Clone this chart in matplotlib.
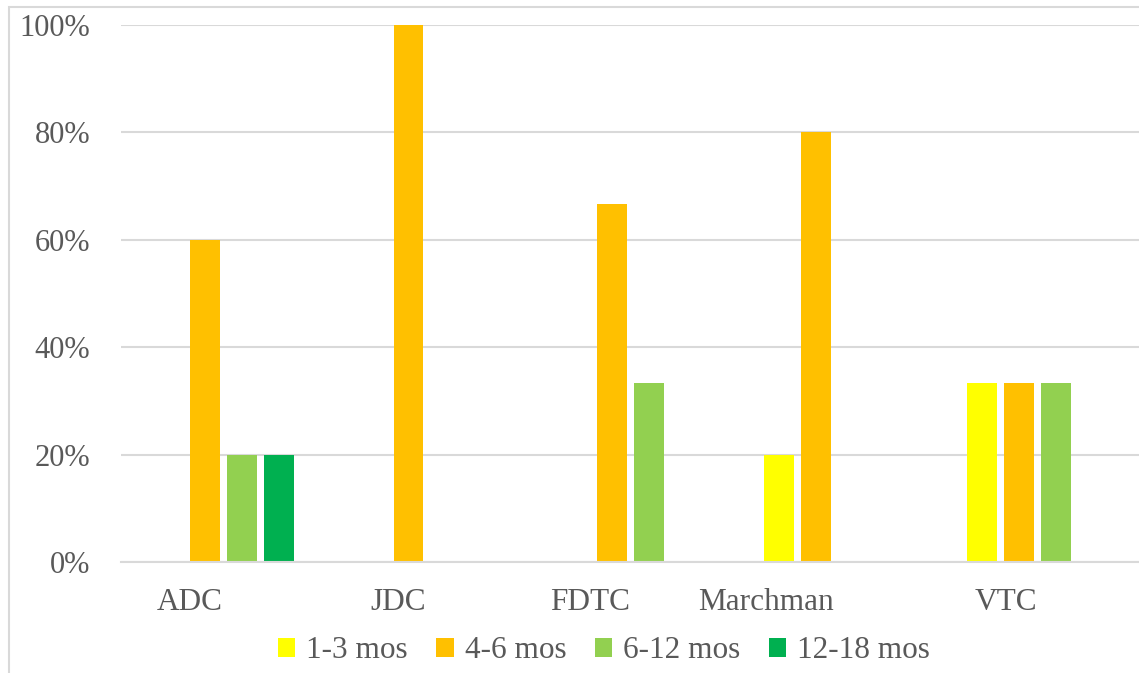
import numpy as np
import matplotlib
matplotlib.use("Agg")
import matplotlib.pyplot as plt
from matplotlib.patches import Rectangle

# data (fractions)
sites = ["ADC", "JDC", "FDTC", "Marchman", "VTC"]
series_names = ["1-3 mos", "4-6 mos", "6-12 mos", "12-18 mos"]
mos_1_3 = [0, 0, 0, 0.20, 0.333]
mos_4_6 = [0.60, 1.00, 0.667, 0.80, 0.333]
mos_6_12 = [0.20, 0, 0.333, 0, 0.333]
mos_12_18 = [0.20, 0, 0, 0, 0]
ticks = [0, 0.2, 0.4, 0.6, 0.8, 1.0]

colors = ["#FFFF00", "#FFC000", "#92D050", "#00B050"]
text_col = "#595959"
grid_col = "#D9D9D9"

plt.rcParams['font.family'] = ['Liberation Serif', 'DejaVu Serif']

W, H = 1139, 673
fig = plt.figure(figsize=(W / 100, H / 100), dpi=100)
ax = fig.add_axes([121 / W, 1 - 562 / H, 1 - 121 / W, (562 - 25) / H])

# light border round the chart area
fig.patches.append(Rectangle((9 / W, -0.1), 1.2, 1 - 7 / H + 0.1,
                             transform=fig.transFigure, fill=False,
                             edgecolor=grid_col, linewidth=1.5))

x = np.arange(len(sites))
step = 0.182
width = 0.147
all_series = [mos_1_3, mos_4_6, mos_6_12, mos_12_18]
for j, vals in enumerate(all_series):
    ax.bar(x + (j - 1.5) * step + 0.003, vals, width, color=colors[j],
           label=series_names[j], zorder=3)

ax.set_xlim(-0.5, len(sites) - 0.5)
ax.set_ylim(0, 1.0)
ax.set_yticks(ticks)
ax.set_yticklabels([f"{int(round(t * 100))}%" for t in ticks])
ax.set_xticks(x)
ax.set_xticklabels(sites, ha='right')
ax.tick_params(axis='y', length=0, pad=22, labelsize=22, labelcolor=text_col)
ax.tick_params(axis='x', length=0, pad=19, labelsize=22.5, labelcolor=text_col)

ax.grid(axis='y', color=grid_col, linewidth=1.5, zorder=0)
for s in ["top", "right", "left"]:
    ax.spines[s].set_visible(False)
ax.spines["bottom"].set_color(grid_col)
ax.spines["bottom"].set_linewidth(1.5)
ax.spines["bottom"].set_zorder(4)

fig.legend(loc='center', bbox_to_anchor=(604 / W, 1 - 651 / H), ncol=4,
           frameon=False, fontsize=22.5, handlelength=0.55, handleheight=0.55,
           handletextpad=0.35, columnspacing=0.92, labelcolor=text_col)

fig.savefig("out.png", dpi=100)
